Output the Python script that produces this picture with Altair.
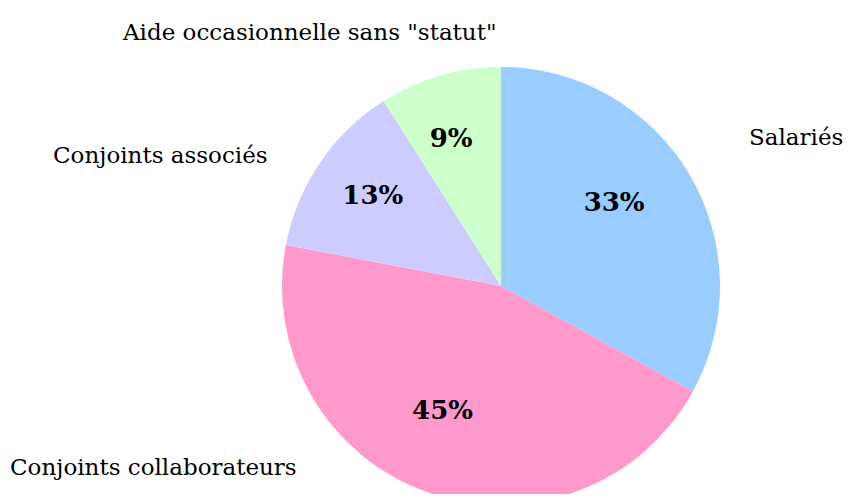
import altair as alt
import pandas as pd

categories = ["Salariés", "Conjoints collaborateurs", "Conjoints associés", "Aide occasionnelle sans \"statut\""]
values = [33, 45, 13, 9]
colors = ["#99CCFF", "#FF99CC", "#CCCCFF", "#CCFFCC"]

df = pd.DataFrame({"cat": categories, "value": values, "order": list(range(len(values)))})

CX, CY, R = 493, 278, 219
FONT = "DejaVu Serif"

base = alt.Chart(df)

pie = base.mark_arc(outerRadius=R, stroke=None).encode(
    theta=alt.Theta("value:Q", stack=True),
    color=alt.Color("cat:N", scale=alt.Scale(domain=categories, range=colors), legend=None),
    order=alt.Order("order:Q"),
    x=alt.value(CX),
    y=alt.value(CY),
)

pct = base.transform_calculate(lbl="datum.value + '%'").mark_text(
    radius=143, font=FONT, fontSize=26, fontWeight="bold", color="black", baseline="middle", align="center"
).encode(
    theta=alt.Theta("value:Q", stack=True),
    order=alt.Order("order:Q"),
    text="lbl:N",
    x=alt.value(CX - 10),
    y=alt.value(CY - 10),
)

label_pos = {
    categories[0]: (741, 137),
    categories[1]: (2, 467),
    categories[2]: (45, 155),
    categories[3]: (115, 32),
}

labels = []
for c in categories:
    lx, ly = label_pos[c]
    labels.append(
        alt.Chart(df).transform_filter(alt.datum.cat == c).mark_text(
            font=FONT, fontSize=23, color="black", align="left", baseline="alphabetic"
        ).encode(text="cat:N", x=alt.value(lx), y=alt.value(ly))
    )

chart = alt.layer(pie, pct, *labels).properties(
    width=835, height=486, autosize=alt.AutoSizeParams(type="none"), padding=0
).configure_view(stroke=None)

chart.save("out.html", embed_options={"renderer": "svg", "actions": False})
